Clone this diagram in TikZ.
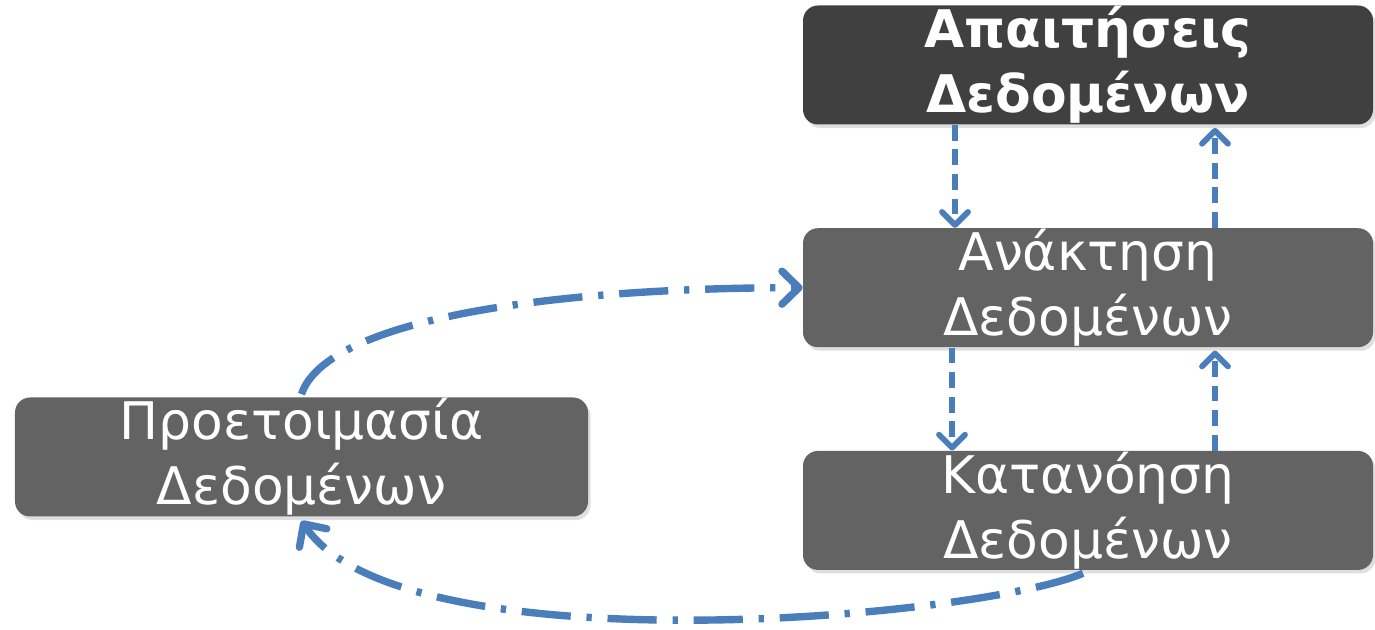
\documentclass[tikz,border=0pt]{standalone}
\usepackage{fontspec}
\setmainfont{DejaVu Sans}
\usepackage{xcolor}
\usepackage{tikz}
\usetikzlibrary{arrows.meta,positioning,calc,shadows}
\definecolor{stagegray}{RGB}{99,99,99}
\definecolor{stagedark}{RGB}{64,64,64}
\definecolor{linkblue}{RGB}{74,126,187}
\tikzset{
  stage/.style={fill=stagegray, rounded corners=0.3cm, text=white, align=center,
                minimum width=11.4cm, minimum height=2.38cm, inner sep=0pt,
                font=\fontsize{29.5}{37}\selectfont,
                drop shadow={opacity=0.25, shadow xshift=1.5pt, shadow yshift=-2pt}},
  stagetop/.style={stage, fill=stagedark, font=\fontsize{29.5}{37}\selectfont\bfseries},
  flowarrow/.style={-{Straight Barb[length=2.6mm,width=5.2mm,round]}, draw=linkblue,
                    line width=3.3pt, dash pattern=on 9pt off 5pt},
  looparrow/.style={-{Straight Barb[length=3.4mm,width=6.6mm,round]}, draw=linkblue,
                    line width=4.2pt, dash pattern=on 28pt off 9pt on 3pt off 9pt}
}
\begin{document}
\begin{tikzpicture}[node distance=2.06cm]
\useasboundingbox (0,0) rectangle (27.5,12.58);
\node[stagetop] (req) at (21.76,11.28) {Απαιτήσεις\\Δεδομένων};
\node[stage, below=of req] (ret) {Ανάκτηση\\Δεδομένων};
\node[stage, below=of ret] (und) {Κατανόηση\\Δεδομένων};
\node[stage, minimum width=11.46cm] (prep) at (6.03,3.44) {Προετοιμασία\\Δεδομένων};
% up and down between the stages on the right
\draw[flowarrow] ([xshift=-2.66cm]req.south) -- ([xshift=-2.66cm]ret.north);
\draw[flowarrow] ([xshift=2.54cm]ret.north) -- ([xshift=2.54cm,yshift=-0.06cm]req.south);
\draw[flowarrow] ([xshift=-2.72cm]ret.south) -- ([xshift=-2.72cm]und.north);
\draw[flowarrow] ([xshift=2.54cm]und.north) -- ([xshift=2.54cm,yshift=-0.06cm]ret.south);
% loop back through preparation
\draw[looparrow] ([yshift=0.06cm]prep.north) .. controls +(0.5,1.5) and +(-5,0) .. (ret.west);
\draw[looparrow] ([xshift=-0.1cm,yshift=-0.06cm]und.south)
  .. controls +(-2.1,-0.9) and +(2,-2.96) .. ([yshift=-0.08cm]prep.south);
\end{tikzpicture}
\end{document}
